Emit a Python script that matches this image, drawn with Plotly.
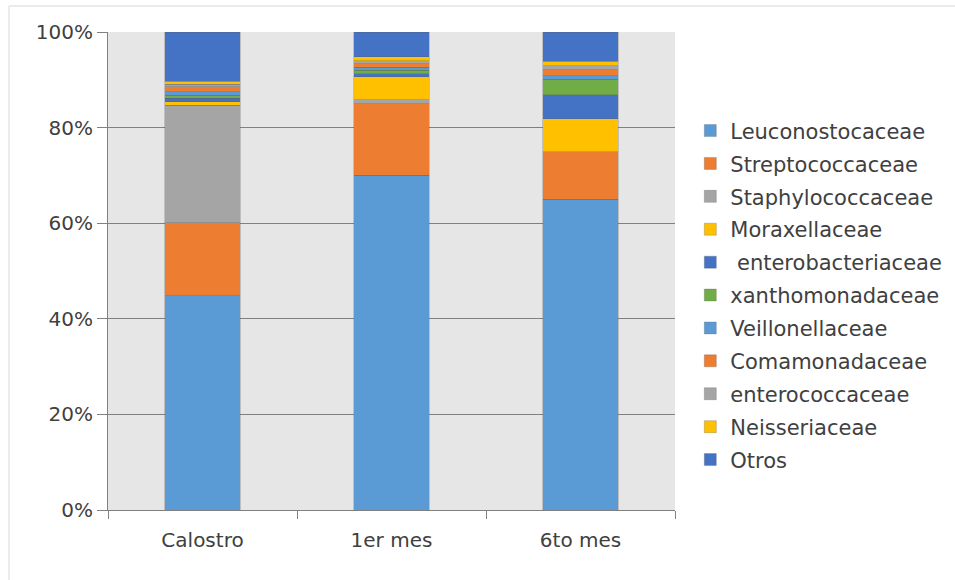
import plotly.graph_objects as go

# Muestras (eje X)
categorias = ["Calostro", "1er mes", "6to mes"]

# Familias bacterianas, de abajo hacia arriba en cada barra
familias = [
    "Leuconostocaceae",
    "Streptococcaceae",
    "Staphylococcaceae",
    "Moraxellaceae",
    " enterobacteriaceae",
    "xanthomonadaceae",
    "Veillonellaceae",
    "Comamonadaceae",
    "enterococcaceae",
    "Neisseriaceae",
    "Otros",
]

# Abundancia relativa (%) por familia: [Calostro, 1er mes, 6to mes]
leuconostocaceae = [44.8, 70.0, 65.0]
streptococcaceae = [15.3, 15.0, 9.9]
staphylococcaceae = [24.6, 0.8, 0.1]
moraxellaceae = [0.7, 4.8, 6.9]
enterobacteriaceae = [0.7, 0.7, 5.0]
xanthomonadaceae = [0.7, 0.7, 3.2]
veillonellaceae = [0.7, 0.6, 0.7]
comamonadaceae = [1.0, 0.8, 1.3]
enterococcaceae = [0.6, 0.6, 0.8]
neisseriaceae = [0.6, 0.8, 1.0]
otros = [10.3, 5.2, 6.1]

valores = [
    leuconostocaceae, streptococcaceae, staphylococcaceae, moraxellaceae,
    enterobacteriaceae, xanthomonadaceae, veillonellaceae, comamonadaceae,
    enterococcaceae, neisseriaceae, otros,
]

colores = [
    "#5B9BD5", "#ED7D31", "#A5A5A5", "#FFC000", "#4472C4", "#70AD47",
    "#5B9BD5", "#ED7D31", "#A5A5A5", "#FFC000", "#4472C4",
]

fig = go.Figure()
for i, (nombre, vals, color) in enumerate(zip(familias, valores, colores)):
    fig.add_trace(go.Bar(
        x=categorias,
        y=vals,
        name=nombre,
        legendgroup=f"g{i}",
        marker=dict(color=color, line=dict(color="rgba(90,90,90,0.35)", width=0.8)),
    ))

font_txt = dict(family="DejaVu Sans", size=20, color="#404040")
font_leg = dict(family="DejaVu Sans", size=21, color="#404040")

fig.update_layout(
    barmode="stack",
    bargap=0.6,
    width=955,
    height=580,
    margin=dict(l=108, r=280, t=32, b=70, autoexpand=False),
    paper_bgcolor="white",
    plot_bgcolor="#E6E6E6",
    font=font_txt,
    legend=dict(
        x=1.027, y=0.836, xanchor="left", yanchor="top",
        traceorder="grouped", tracegroupgap=2.6,
        font=font_leg, itemwidth=30,
        bgcolor="rgba(0,0,0,0)",
    ),
    xaxis=dict(
        showline=True, linecolor="#808080", linewidth=1.2,
        ticks="outside", tickson="boundaries", ticklen=8,
        tickcolor="#808080", tickwidth=1.2,
        tickfont=font_txt, showgrid=False, ticklabelstandoff=12,
    ),
    yaxis=dict(
        range=[0, 100], dtick=20, ticksuffix="%",
        showline=True, linecolor="#808080", linewidth=1.2,
        ticks="outside", ticklen=10, tickcolor="#808080", tickwidth=1.2,
        gridcolor="#808080", gridwidth=1.2,
        tickfont=font_txt, zeroline=False,
    ),
    shapes=[dict(
        type="rect", xref="paper", yref="paper",
        x0=-0.1746, x1=1.51, y0=-0.16, y1=1.0544,
        line=dict(color="#D9D9D9", width=1), fillcolor="rgba(0,0,0,0)",
        layer="below",
    )],
)

fig.write_html("out.html")
